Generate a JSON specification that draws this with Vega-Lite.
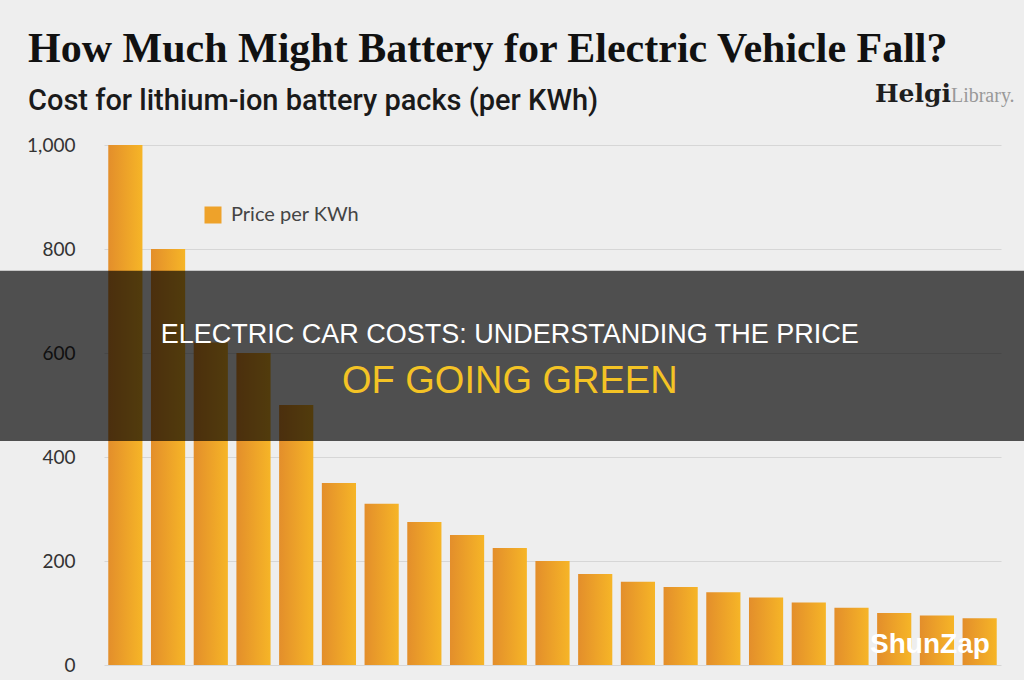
{
  "$schema": "https://vega.github.io/schema/vega-lite/v6.json",
  "width": 897,
  "height": 520,
  "autosize": {"type": "none"},
  "padding": {"left": 104, "top": 145, "right": 23, "bottom": 15},
  "background": "#eeeeee",
  "config": {"view": {"stroke": null}},
  "title": {
    "text": "How Much Might Battery for Electric Vehicle Fall?",
    "subtitle": "Cost for lithium-ion battery packs (per KWh)",
    "anchor": "start",
    "frame": "group",
    "dx": -76,
    "offset": -35,
    "font": "Liberation Serif",
    "fontSize": 42,
    "fontWeight": "bold",
    "color": "#111111",
    "subtitleFont": "Roboto",
    "subtitleFontSize": 29,
    "subtitleFontWeight": 500,
    "subtitleColor": "#1a1a1a",
    "subtitlePadding": 16
  },
  "datasets": {
    "costs": [
      {"year": "2010", "price": 1000, "series": "Price per KWh"},
      {"year": "2011", "price": 800, "series": "Price per KWh"},
      {"year": "2012", "price": 620, "series": "Price per KWh"},
      {"year": "2013", "price": 600, "series": "Price per KWh"},
      {"year": "2014", "price": 500, "series": "Price per KWh"},
      {"year": "2015", "price": 350, "series": "Price per KWh"},
      {"year": "2016", "price": 310, "series": "Price per KWh"},
      {"year": "2017", "price": 275, "series": "Price per KWh"},
      {"year": "2018", "price": 250, "series": "Price per KWh"},
      {"year": "2019", "price": 225, "series": "Price per KWh"},
      {"year": "2020", "price": 200, "series": "Price per KWh"},
      {"year": "2021", "price": 175, "series": "Price per KWh"},
      {"year": "2022", "price": 160, "series": "Price per KWh"},
      {"year": "2023", "price": 150, "series": "Price per KWh"},
      {"year": "2024", "price": 140, "series": "Price per KWh"},
      {"year": "2025", "price": 130, "series": "Price per KWh"},
      {"year": "2026", "price": 120, "series": "Price per KWh"},
      {"year": "2027", "price": 110, "series": "Price per KWh"},
      {"year": "2028", "price": 100, "series": "Price per KWh"},
      {"year": "2029", "price": 95, "series": "Price per KWh"},
      {"year": "2030", "price": 90, "series": "Price per KWh"}
    ],
    "banner": [
      {"top": 758, "bottom": 431}
    ],
    "headline": [
      {"year": "2019", "v": 619, "text": "ELECTRIC CAR COSTS: UNDERSTANDING THE PRICE"}
    ],
    "headline2": [
      {"year": "2019", "v": 523, "text": "OF GOING GREEN"}
    ],
    "brand": [
      {"year": "2029", "v": 1083, "helgi": "Helgi", "library": "Library."}
    ],
    "stamp": [
      {"year": "2029", "v": 23, "text": "ShunZap"}
    ]
  },
  "layer": [
    {
      "data": {"name": "costs"},
      "mark": {
        "type": "bar",
        "color": {
          "gradient": "linear",
          "x1": 0, "y1": 0, "x2": 1, "y2": 0,
          "stops": [
            {"offset": 0, "color": "#e38e2b"},
            {"offset": 1, "color": "#f6b527"}
          ]
        }
      },
      "encoding": {
        "x": {
          "field": "year",
          "type": "nominal",
          "sort": null,
          "axis": null,
          "scale": {"paddingInner": 0.2, "paddingOuter": 0.1}
        },
        "y": {
          "field": "price",
          "type": "quantitative",
          "scale": {"domain": [0, 1000], "nice": false},
          "axis": {
            "title": null,
            "values": [0, 200, 400, 600, 800, 1000],
            "format": ",d",
            "domain": false,
            "ticks": false,
            "labelPadding": 29,
            "labelFont": "Lato",
            "labelFontSize": 19,
            "labelColor": "#333333",
            "gridColor": "#d6d6d6",
            "gridWidth": 1
          }
        }
      }
    },
    {
      "data": {"name": "costs"},
      "mark": {"type": "bar", "opacity": 0},
      "encoding": {
        "x": {"field": "year", "type": "nominal", "sort": null},
        "y": {"field": "price", "type": "quantitative"},
        "color": {
          "field": "series",
          "type": "nominal",
          "scale": {"range": ["#eea22a"]},
          "legend": {
            "orient": "none",
            "legendX": 99,
            "legendY": 60,
            "title": null,
            "padding": 0,
            "symbolType": "square",
            "symbolSize": 289,
            "symbolOpacity": 1,
            "symbolStrokeWidth": 0,
            "labelFont": "Lato",
            "labelFontSize": 20,
            "labelColor": "#444444",
            "labelOffset": 8
          }
        }
      }
    },
    {
      "data": {"name": "banner"},
      "mark": {"type": "rect", "color": "#000000", "opacity": 0.67},
      "encoding": {
        "x": {"value": -104},
        "x2": {"value": 920},
        "y": {"field": "top", "type": "quantitative"},
        "y2": {"field": "bottom"}
      }
    },
    {
      "data": {"name": "headline"},
      "mark": {"type": "text", "font": "Liberation Sans", "fontSize": 27, "color": "#ffffff", "align": "center", "baseline": "alphabetic"},
      "encoding": {
        "x": {"field": "year", "type": "nominal", "sort": null},
        "y": {"field": "v", "type": "quantitative"},
        "text": {"field": "text"}
      }
    },
    {
      "data": {"name": "headline2"},
      "mark": {"type": "text", "font": "Liberation Sans", "fontSize": 38, "color": "#f4c325", "align": "center", "baseline": "alphabetic"},
      "encoding": {
        "x": {"field": "year", "type": "nominal", "sort": null},
        "y": {"field": "v", "type": "quantitative"},
        "text": {"field": "text"}
      }
    },
    {
      "data": {"name": "brand"},
      "mark": {"type": "text", "font": "DejaVu Serif", "fontSize": 25, "fontWeight": "bold", "color": "#1e1e1e", "align": "right", "baseline": "alphabetic", "dx": 14},
      "encoding": {
        "x": {"field": "year", "type": "nominal", "sort": null},
        "y": {"field": "v", "type": "quantitative"},
        "text": {"field": "helgi"}
      }
    },
    {
      "data": {"name": "brand"},
      "mark": {"type": "text", "font": "Liberation Serif", "fontSize": 20, "color": "#999999", "align": "left", "baseline": "alphabetic", "dx": 14},
      "encoding": {
        "x": {"field": "year", "type": "nominal", "sort": null},
        "y": {"field": "v", "type": "quantitative"},
        "text": {"field": "library"}
      }
    },
    {
      "data": {"name": "stamp"},
      "mark": {"type": "text", "font": "Liberation Sans", "fontSize": 28, "fontWeight": "bold", "color": "#ffffff", "align": "center", "baseline": "alphabetic", "dx": -7},
      "encoding": {
        "x": {"field": "year", "type": "nominal", "sort": null},
        "y": {"field": "v", "type": "quantitative"},
        "text": {"field": "text"}
      }
    }
  ]
}
